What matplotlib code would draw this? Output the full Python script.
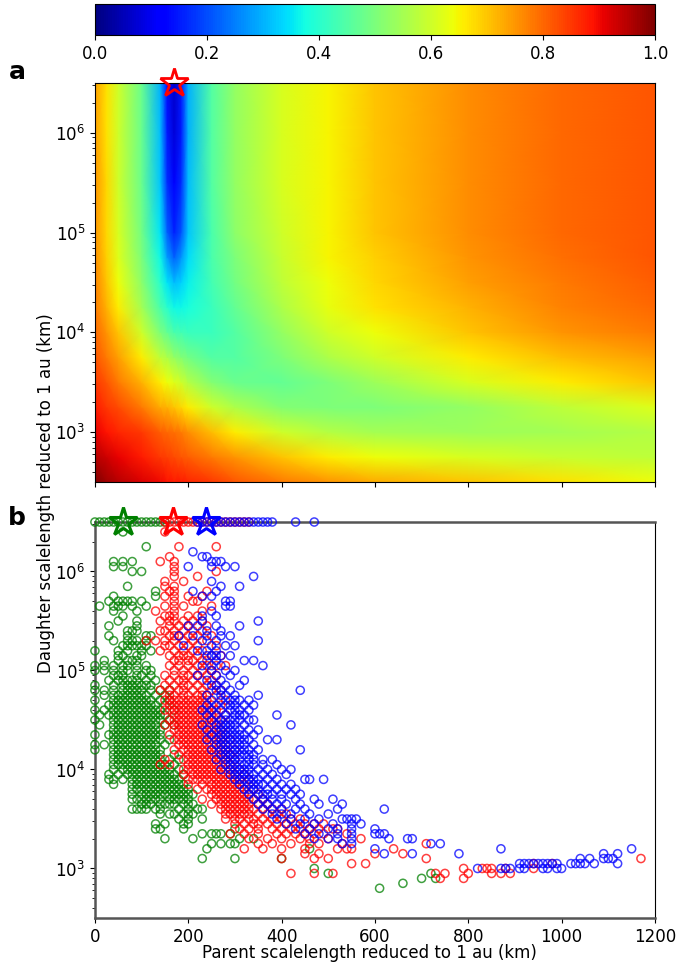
import matplotlib
matplotlib.use('Agg')
import matplotlib.pyplot as plt
import numpy as np

# ---- panel a: fraction map (parent vs daughter scalelength) ----
heat_parent = [0, 25, 50, 100, 140, 155, 170, 185, 200, 250, 300, 400, 500, 600, 800, 1000, 1200]
heat_daughter = [316, 562, 1000, 1780, 3160, 5620, 1.0e4, 1.78e4, 3.16e4, 5.62e4, 1.0e5, 3.16e5, 1.0e6, 3.16e6]
heat_frac = [
    [1.00, 0.97, 0.95, 0.92, 0.90, 0.89, 0.88, 0.88, 0.87, 0.85, 0.82, 0.78, 0.75, 0.73, 0.70, 0.67, 0.64],
    [0.95, 0.93, 0.91, 0.88, 0.85, 0.84, 0.83, 0.82, 0.81, 0.78, 0.75, 0.70, 0.66, 0.64, 0.61, 0.59, 0.58],
    [0.91, 0.89, 0.87, 0.85, 0.81, 0.80, 0.79, 0.78, 0.76, 0.71, 0.66, 0.60, 0.57, 0.55, 0.54, 0.55, 0.57],
    [0.88, 0.85, 0.83, 0.78, 0.73, 0.72, 0.70, 0.68, 0.66, 0.60, 0.56, 0.51, 0.50, 0.50, 0.53, 0.58, 0.62],
    [0.85, 0.82, 0.78, 0.72, 0.66, 0.64, 0.62, 0.60, 0.57, 0.51, 0.48, 0.47, 0.50, 0.54, 0.61, 0.66, 0.70],
    [0.82, 0.78, 0.74, 0.66, 0.58, 0.56, 0.53, 0.51, 0.49, 0.45, 0.45, 0.50, 0.56, 0.60, 0.66, 0.71, 0.74],
    [0.80, 0.75, 0.70, 0.60, 0.50, 0.47, 0.44, 0.43, 0.42, 0.42, 0.45, 0.53, 0.60, 0.64, 0.70, 0.75, 0.78],
    [0.78, 0.72, 0.66, 0.55, 0.44, 0.40, 0.37, 0.37, 0.38, 0.42, 0.47, 0.56, 0.63, 0.67, 0.72, 0.77, 0.80],
    [0.77, 0.70, 0.64, 0.52, 0.40, 0.35, 0.31, 0.33, 0.36, 0.43, 0.49, 0.58, 0.64, 0.68, 0.74, 0.78, 0.81],
    [0.76, 0.69, 0.62, 0.50, 0.37, 0.28, 0.22, 0.27, 0.34, 0.44, 0.50, 0.59, 0.65, 0.69, 0.75, 0.79, 0.82],
    [0.75, 0.68, 0.61, 0.49, 0.35, 0.22, 0.16, 0.21, 0.32, 0.44, 0.52, 0.60, 0.65, 0.70, 0.76, 0.80, 0.82],
    [0.75, 0.68, 0.60, 0.48, 0.32, 0.17, 0.11, 0.17, 0.31, 0.45, 0.53, 0.61, 0.65, 0.70, 0.76, 0.80, 0.82],
    [0.74, 0.67, 0.60, 0.48, 0.31, 0.15, 0.08, 0.15, 0.30, 0.45, 0.53, 0.61, 0.65, 0.70, 0.76, 0.80, 0.82],
    [0.74, 0.67, 0.60, 0.48, 0.30, 0.14, 0.07, 0.15, 0.30, 0.45, 0.53, 0.61, 0.65, 0.70, 0.76, 0.80, 0.82],
]
best_a = (169, 3.16e6)

# ---- panel b: fitted scalelengths, rows of (daughter km, [parent km ...]) ----
green_rows = [
    (3.16e6, [0, 10, 20, 30, 40, 50, 60, 70, 80, 90, 100, 110, 120, 130, 140, 150]),
    (2.51e6, [60]),
    (1.78e6, [110]),
    (1.26e6, [40, 60, 80]),
    (1.12e6, [40, 60]),
    (1.0e6, [80, 100]),
    (7.08e5, [70]),
    (6.31e5, [130]),
    (5.62e5, [40, 130]),
    (5.01e5, [30, 50, 60, 70, 80, 100]),
    (4.47e5, [10, 40, 50, 60, 80, 110]),
    (3.98e5, [40, 90]),
    (3.55e5, [60]),
    (3.16e5, [50, 90]),
    (2.82e5, [30, 90]),
    (2.51e5, [70, 80, 90]),
    (2.24e5, [30, 70, 110, 120]),
    (2.0e5, [40, 70, 80, 90, 110]),
    (1.78e5, [60, 70, 80, 90, 100, 110]),
    (1.58e5, [0, 50, 70, 100, 120]),
    (1.41e5, [50, 60, 90, 100]),
    (1.26e5, [20, 50, 70, 80, 90]),
    (1.12e5, [0, 20, 40, 60, 70, 90, 110]),
    (1.0e5, [0, 20, 40, 60, 70, 90, 110, 120]),
    (8.91e4, [40, 50, 60, 90, 100, 120]),
    (7.94e4, [30, 50, 60, 70, 80, 90, 110, 130]),
    (7.08e4, [0, 40, 60, 70, 80, 90, 100, 110, 120]),
    (6.31e4, [0, 20, 40, 60, 70, 80, 90, 100, 120, 140, 160]),
    (5.62e4, [20, 40, 50, 60, 70, 80, 90, 100, 110, 130, 150]),
    (5.01e4, [0, 40, 50, 60, 70, 80, 90, 100, 110, 120, 140, 160]),
    (4.47e4, [30, 40, 50, 60, 70, 80, 90, 100, 110, 120, 130, 150]),
    (3.98e4, [0, 20, 40, 50, 60, 70, 80, 90, 100, 110, 120, 130, 140, 170]),
    (3.55e4, [10, 30, 40, 50, 60, 70, 80, 90, 100, 110, 120, 130, 140, 150]),
    (3.16e4, [0, 40, 50, 60, 70, 80, 90, 100, 110, 120, 130, 140, 160]),
    (2.82e4, [10, 40, 50, 60, 70, 80, 90, 100, 110, 120, 130, 150, 170]),
    (2.51e4, [40, 50, 60, 70, 80, 90, 100, 110, 120, 130, 140]),
    (2.24e4, [0, 30, 40, 50, 60, 70, 80, 90, 100, 110, 120, 130, 140]),
    (2.0e4, [40, 50, 60, 70, 80, 90, 100, 110, 120, 130, 140, 160]),
    (1.78e4, [0, 20, 40, 50, 60, 70, 80, 90, 100, 110, 120, 130, 150]),
    (1.58e4, [0, 40, 50, 60, 70, 80, 90, 100, 110, 120, 130, 140]),
    (1.41e4, [40, 50, 60, 70, 80, 90, 100, 110, 120, 130, 140, 170]),
    (1.26e4, [40, 50, 60, 70, 80, 90, 100, 110, 120, 130, 140, 160, 180]),
    (1.12e4, [40, 50, 60, 70, 80, 90, 100, 110, 120, 130, 140, 150, 170]),
    (1.0e4, [40, 60, 70, 80, 90, 100, 110, 120, 130, 140, 150, 160, 180]),
    (8910, [30, 50, 70, 80, 90, 100, 110, 120, 130, 140, 150, 160, 170, 190]),
    (7940, [30, 40, 60, 80, 90, 100, 110, 120, 130, 140, 150, 160, 170, 180]),
    (7080, [40, 80, 90, 100, 110, 120, 130, 140, 150, 160, 170, 180, 190]),
    (6310, [80, 90, 100, 110, 120, 130, 140, 150, 160, 170, 180, 190, 200]),
    (5620, [80, 100, 110, 120, 130, 140, 150, 160, 170, 180, 190, 200, 210]),
    (5010, [80, 90, 100, 110, 120, 130, 140, 160, 170, 180, 190, 200]),
    (4470, [100, 110, 120, 140, 150, 160, 170, 190, 200, 210]),
    (3980, [80, 90, 100, 110, 130, 140, 180, 200, 220, 230]),
    (3550, [140, 160, 170, 190, 200, 210]),
    (3160, [180, 200, 230]),
    (2820, [130, 150, 190, 200]),
    (2510, [130, 140, 190, 300]),
    (2240, [230, 250, 260, 270, 290]),
    (2000, [150, 210, 310, 340]),
    (1780, [250, 270, 290, 300]),
    (1580, [240, 460]),
    (1260, [230, 300, 400]),
    (1000, [470]),
    (891, [500, 720]),
    (794, [700, 730]),
    (708, [660]),
    (631, [610]),
]

red_rows = [
    (3.16e6, [150, 160, 170, 180, 190, 200, 210, 220, 230, 240, 250, 260, 270, 280, 290, 300, 310, 320, 330]),
    (2.51e6, [150]),
    (1.78e6, [180, 260]),
    (1.41e6, [160]),
    (1.26e6, [140, 170]),
    (1.12e6, [170]),
    (1.0e6, [170, 260]),
    (8.91e5, [170, 220]),
    (7.94e5, [150, 190]),
    (7.08e5, [150, 170]),
    (6.31e5, [160, 170, 240]),
    (5.62e5, [150, 170, 200, 230]),
    (5.01e5, [170, 210, 220]),
    (4.47e5, [150, 170, 190, 250]),
    (3.98e5, [130, 170, 230]),
    (3.55e5, [150, 160, 170, 200, 220]),
    (3.16e5, [140, 160, 170, 190, 210, 230]),
    (2.82e5, [160, 180, 200, 240]),
    (2.51e5, [140, 150, 170, 190, 210, 230]),
    (2.24e5, [160, 170, 180, 200, 220, 250]),
    (2.0e5, [110, 130, 150, 170, 190, 210, 240]),
    (1.78e5, [150, 160, 180, 200, 220, 260]),
    (1.58e5, [140, 170, 190, 210, 230]),
    (1.41e5, [160, 180, 190, 200, 220, 250, 270]),
    (1.26e5, [170, 180, 200, 210, 230, 240]),
    (1.12e5, [160, 180, 200, 220, 240, 260, 280]),
    (1.0e5, [170, 190, 210, 230, 250]),
    (8.91e4, [150, 170, 190, 200, 220, 240, 260]),
    (7.94e4, [160, 180, 190, 210, 230, 250]),
    (7.08e4, [150, 170, 190, 200, 220, 240, 260]),
    (6.31e4, [140, 160, 180, 190, 210, 230, 250, 270]),
    (5.62e4, [160, 170, 190, 200, 220, 230, 240, 260]),
    (5.01e4, [150, 160, 170, 180, 190, 200, 210, 220, 230, 240, 280]),
    (4.47e4, [160, 170, 180, 190, 200, 210, 220, 230, 240, 250, 270]),
    (3.98e4, [150, 160, 170, 180, 190, 200, 210, 220, 230, 240, 250, 260]),
    (3.55e4, [170, 180, 190, 200, 210, 220, 230, 240, 250, 260, 280]),
    (3.16e4, [160, 170, 180, 190, 200, 210, 220, 230, 240, 250, 260, 270]),
    (2.82e4, [150, 170, 180, 190, 200, 210, 220, 230, 240, 250, 260, 280]),
    (2.51e4, [170, 180, 190, 200, 210, 220, 230, 240, 250, 260, 270]),
    (2.24e4, [160, 180, 190, 200, 210, 220, 230, 240, 250, 260, 270, 280]),
    (2.0e4, [170, 180, 190, 200, 210, 220, 230, 240, 250, 260, 270, 290]),
    (1.78e4, [180, 190, 200, 210, 220, 230, 240, 250, 260, 270, 280]),
    (1.58e4, [170, 190, 200, 210, 220, 230, 240, 250, 260, 270, 280, 300]),
    (1.41e4, [180, 200, 210, 220, 230, 240, 250, 260, 270, 280, 290]),
    (1.26e4, [150, 190, 200, 210, 220, 230, 240, 250, 260, 270, 280, 300]),
    (1.12e4, [140, 160, 200, 210, 220, 230, 240, 250, 260, 270, 280, 290]),
    (1.0e4, [190, 200, 210, 220, 230, 240, 250, 260, 270, 280, 290, 310]),
    (8910, [190, 210, 220, 230, 240, 250, 260, 270, 280, 290, 300, 320]),
    (7940, [200, 210, 220, 230, 240, 250, 260, 270, 280, 290, 300, 310, 330]),
    (7080, [200, 230, 250, 260, 270, 280, 290, 300, 310, 320]),
    (6310, [220, 240, 250, 260, 270, 280, 290, 300, 310, 320, 340]),
    (5620, [250, 260, 270, 280, 290, 300, 310, 320, 330, 350]),
    (5010, [230, 260, 270, 280, 290, 300, 310, 320, 330, 340, 360]),
    (4470, [250, 270, 280, 290, 300, 310, 320, 330, 350, 370]),
    (3980, [270, 280, 290, 300, 310, 320, 330, 340, 360, 380, 400]),
    (3550, [280, 290, 300, 310, 320, 330, 350, 370, 390, 410]),
    (3160, [280, 300, 310, 330, 340, 360, 380, 400, 420, 440]),
    (2820, [300, 320, 340, 350, 370, 390, 410, 430, 450, 470, 490]),
    (2510, [310, 330, 350, 380, 400, 420, 440, 460, 480, 510, 520]),
    (2240, [290, 320, 350, 390, 410, 430, 450, 470, 490, 540]),
    (2000, [330, 370, 400, 440, 460, 500, 570]),
    (1780, [350, 380, 420, 460, 480, 530, 710]),
    (1580, [320, 360, 400, 450, 520, 540, 550, 640]),
    (1410, [450, 480, 600, 660]),
    (1260, [400, 470, 500, 710, 1170]),
    (1120, [550, 580, 940, 980]),
    (1000, [790, 830, 840, 850, 880, 940]),
    (891, [420, 470, 510, 730, 750, 800, 850, 870, 890]),
    (794, [740, 790]),
]

blue_rows = [
    (3.16e6, [220, 230, 240, 250, 260, 270, 280, 290, 300, 310, 320, 330, 340, 350, 360, 370, 380, 430, 470]),
    (1.58e6, [210]),
    (1.41e6, [230, 240]),
    (1.26e6, [250, 260, 270]),
    (1.12e6, [200, 250, 280, 300]),
    (8.91e5, [340]),
    (7.94e5, [250]),
    (7.08e5, [270, 310]),
    (6.31e5, [210, 260]),
    (5.62e5, [230, 250]),
    (5.01e5, [280, 290]),
    (4.47e5, [280, 290]),
    (3.98e5, [250]),
    (3.55e5, [230, 260]),
    (3.16e5, [230, 350]),
    (2.82e5, [200, 220, 260, 310]),
    (2.51e5, [240, 270]),
    (2.24e5, [180, 210, 240, 270, 290]),
    (2.0e5, [230, 260, 350]),
    (1.78e5, [190, 250, 280, 300]),
    (1.58e5, [220, 240, 260]),
    (1.41e5, [240, 250, 260, 270, 290]),
    (1.26e5, [260, 320, 340]),
    (1.12e5, [230, 250, 270, 360]),
    (1.0e5, [250, 280, 300]),
    (8.91e4, [220, 260, 290]),
    (7.94e4, [240, 270, 320]),
    (7.08e4, [250, 260, 280, 310]),
    (6.31e4, [260, 270, 290, 440]),
    (5.62e4, [240, 270, 280, 300, 350]),
    (5.01e4, [250, 270, 290, 300, 310, 330]),
    (4.47e4, [240, 260, 280, 290, 300, 320, 340]),
    (3.98e4, [230, 250, 270, 290, 300, 310, 330]),
    (3.55e4, [240, 260, 280, 300, 310, 320, 390]),
    (3.16e4, [250, 270, 280, 290, 300, 310, 330, 340]),
    (2.82e4, [230, 260, 270, 280, 290, 300, 320, 420]),
    (2.51e4, [240, 260, 270, 280, 290, 300, 310, 330, 350]),
    (2.24e4, [250, 270, 280, 290, 300, 310, 320, 340]),
    (2.0e4, [240, 260, 270, 280, 290, 300, 310, 320, 330, 370, 390]),
    (1.78e4, [260, 270, 280, 290, 300, 310, 320, 340]),
    (1.58e4, [250, 270, 280, 290, 300, 310, 320, 330, 350, 440]),
    (1.41e4, [270, 280, 290, 300, 310, 320, 330, 340]),
    (1.26e4, [260, 280, 290, 300, 310, 330, 340, 360, 380]),
    (1.12e4, [280, 290, 300, 310, 320, 330, 340, 360, 390]),
    (1.0e4, [270, 290, 300, 310, 320, 330, 350, 370, 400, 420]),
    (8910, [290, 300, 310, 320, 330, 340, 360, 380, 410]),
    (7940, [300, 310, 320, 330, 340, 350, 370, 390, 450, 460, 490]),
    (7080, [310, 330, 340, 350, 360, 380, 400, 420]),
    (6310, [320, 330, 340, 350, 370, 390, 410, 430]),
    (5620, [330, 350, 360, 370, 380, 400, 420, 440]),
    (5010, [340, 360, 380, 400, 430, 470, 510]),
    (4470, [350, 370, 390, 410, 440, 480, 530]),
    (3980, [360, 380, 400, 430, 450, 520, 620]),
    (3550, [380, 400, 420, 460, 500]),
    (3160, [390, 420, 450, 480, 530, 540, 550, 560]),
    (2820, [410, 440, 470, 510, 550, 570]),
    (2510, [430, 460, 500, 520, 550, 600]),
    (2240, [450, 480, 520, 550, 600, 610, 620]),
    (2000, [470, 500, 520, 550, 630, 670, 680]),
    (1780, [530, 550, 720, 740]),
    (1580, [600, 870, 1150]),
    (1410, [620, 680, 780, 1090, 1120]),
    (1260, [1040, 1060, 1090, 1100, 1110]),
    (1120, [910, 920, 930, 940, 950, 960, 970, 980, 990, 1020, 1030, 1040, 1050, 1070, 1120]),
    (1000, [820, 870, 880, 890, 910, 920, 960, 970, 990, 1000]),
]

best_green = (60, 3.16e6)
best_red = (168, 3.16e6)
best_blue = (237, 3.16e6)


def flatten(rows):
    px = [x for d, xs in rows for x in xs]
    dy = [d for d, xs in rows for _ in xs]
    return px, dy


plt.rcParams['font.size'] = 12
fig = plt.figure(figsize=(6.78, 9.67), dpi=100)
cax = fig.add_axes([0.140, 0.9638, 0.826, 0.032])
ax_a = fig.add_axes([0.140, 0.5016, 0.826, 0.4126])
ax_b = fig.add_axes([0.140, 0.0507, 0.826, 0.4095])

# panel a
mesh = ax_a.pcolormesh(heat_parent, heat_daughter, np.array(heat_frac),
                       cmap='jet', vmin=0, vmax=1, shading='gouraud')
ax_a.plot(*best_a, marker='*', ms=21, mfc='none', mec='red', mew=2,
          clip_on=False, zorder=5)
cb = fig.colorbar(mesh, cax=cax, orientation='horizontal',
                  ticks=[0.0, 0.2, 0.4, 0.6, 0.8, 1.0])
cb.ax.tick_params(labelsize=12)

# panel b
for rows, col in [(green_rows, 'green'), (red_rows, 'red'), (blue_rows, 'blue')]:
    px, dy = flatten(rows)
    ax_b.scatter(px, dy, s=34, facecolors='none', edgecolors=col,
                 linewidths=1.1, alpha=0.75, clip_on=False, zorder=3)
for (x, y), col in [(best_green, 'green'), (best_red, 'red'), (best_blue, 'blue')]:
    ax_b.plot(x, y, marker='*', ms=21, mfc='none', mec=col, mew=2.2,
              clip_on=False, zorder=6)

for ax in (ax_a, ax_b):
    ax.set_yscale('log')
    ax.set_ylim(10 ** 2.5, 10 ** 6.5)
    ax.set_xlim(0, 1200)
    ax.set_xticks(range(0, 1201, 200))
    ax.set_yticks([1e3, 1e4, 1e5, 1e6])
    ax.tick_params(labelsize=12)

ax_a.tick_params(axis='x', labelbottom=False)
for side in ['left', 'bottom', 'top']:
    ax_b.spines[side].set_color('#555555')
    ax_b.spines[side].set_linewidth(1.8)

fig.text(0.025, 0.9255, 'a', fontsize=18, fontweight='bold', ha='center', va='center')
fig.text(0.025, 0.4643, 'b', fontsize=18, fontweight='bold', ha='center', va='center')
fig.text(0.068, 0.49, 'Daughter scalelength reduced to 1 au (km)', rotation=90,
         ha='center', va='center', fontsize=12)
fig.text(0.545, 0.014, 'Parent scalelength reduced to 1 au (km)',
         ha='center', va='center', fontsize=12)

fig.savefig('out.png', dpi=100)
